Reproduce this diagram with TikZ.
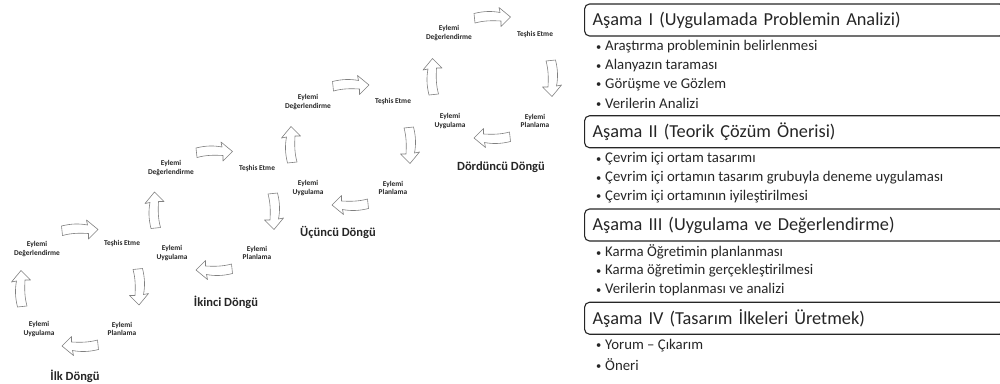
\documentclass[tikz,border=0pt]{standalone}
\usepackage{fontspec}
\setmainfont{Carlito}
\usetikzlibrary{calc}
\definecolor{arrgray}{HTML}{808080}
\definecolor{txt}{HTML}{262626}
\newcommand{\blt}{\makebox[9pt][l]{\raisebox{0.6pt}{\fontsize{10.5}{10.5}\selectfont •}}}
\begin{document}
\begin{tikzpicture}[x=1pt,y=1pt,
  lbl/.style={font=\fontsize{7.4}{8.7}\selectfont\bfseries, text=txt, align=center, inner sep=0pt},
  cyc/.style={font=\fontsize{12.5}{14}\selectfont\bfseries, text=txt, inner sep=0pt},
  arrowline/.style={draw=arrgray, fill=white, line width=0.6pt, line join=round},
  hdr/.style={draw=black!85, line width=1.1pt, rounded corners=5pt, fill=white, anchor=west, minimum height=32pt, text width=404pt, inner xsep=8pt, inner ysep=0pt, align=left, font=\fontsize{18.3}{21}\selectfont, text=txt},
  bul/.style={anchor=west, inner sep=0pt, font=\fontsize{14.8}{16}\selectfont, text=txt},
  bendarrow/.pic={
    \draw[arrowline] (-18,4.5) .. controls (-8,7) and (0,7) .. (8,5.5) -- (7,10.5) -- (18.5,1) -- (9,-8.5) -- (9,-3) .. controls (0,-2.5) and (-8,-2.5) .. (-17,-5) -- cycle;
  }
]
\useasboundingbox (0,0) rectangle (1000,-383);

% ---- cycle 1
\node[lbl] (c1d) at (37,-249) {Eylemi\\Değerlendirme};
\node[lbl] (c1t) at (122,-244) {Teşhis Etme};
\node[lbl] (c1u) at (39,-329) {Eylemi\\Uygulama};
\node[lbl] (c1p) at (122,-329) {Eylemi\\Planlama};
\node[cyc] (c1l) at (75,-376) {İlk Döngü};
% ---- cycle 2
\node[lbl] (c2d) at (171,-168) {Eylemi\\Değerlendirme};
\node[lbl] (c2t) at (257,-169) {Teşhis Etme};
\node[lbl] (c2u) at (172,-253) {Eylemi\\Uygulama};
\node[lbl] (c2p) at (257,-253) {Eylemi\\Planlama};
\node[cyc] (c2l) at (226,-302) {İkinci Döngü};
% ---- cycle 3
\node[lbl] (c3d) at (308,-102) {Eylemi\\Değerlendirme};
\node[lbl] (c3t) at (393,-102) {Teşhis Etme};
\node[lbl] (c3u) at (308,-188) {Eylemi\\Uygulama};
\node[lbl] (c3p) at (393,-188) {Eylemi\\Planlama};
\node[cyc] (c3l) at (338,-232) {Üçüncü Döngü};
% ---- cycle 4
\node[lbl] (c4d) at (449,-33) {Eylemi\\Değerlendirme};
\node[lbl] (c4t) at (535,-35) {Teşhis Etme};
\node[lbl] (c4u) at (450,-121) {Eylemi\\Uygulama};
\node[lbl] (c4p) at (535,-121) {Eylemi\\Planlama};
\node[cyc] (c4l) at (501,-167) {Dördüncü Döngü};

% ---- block arrows of the cycles
\foreach \c in {1,2,3,4}{
  \pic at ($(c\c d)!0.5!(c\c t)+(0,16)$) {bendarrow};
  \pic[rotate=-90] at ($(c\c t)!0.5!(c\c p)+(16,0)$) {bendarrow};
  \pic[rotate=180] at ($(c\c p)!0.5!(c\c u)+(0,-16)$) {bendarrow};
  \pic[rotate=90] at ($(c\c u)!0.5!(c\c d)+(-16,0)$) {bendarrow};
}

% ---- right panel
\node[hdr] (h1) at (584,-20) {Aşama I (Uygulamada Problemin Analizi)};
\node[bul] (b11) at (596,-47) {\blt Araştırma probleminin belirlenmesi};
\node[bul] (b12) at (596,-65.75) {\blt Alanyazın taraması};
\node[bul] (b13) at (596,-84.5) {\blt Görüşme ve Gözlem};
\node[bul] (b14) at (596,-103.25) {\blt Verilerin Analizi};

\node[hdr] (h2) at (584,-131.75) {Aşama II (Teorik Çözüm Önerisi)};
\node[bul] (b21) at (596,-159) {\blt Çevrim içi ortam tasarımı};
\node[bul] (b22) at (596,-177.75) {\blt Çevrim içi ortamın tasarım grubuyla deneme uygulaması};
\node[bul] (b23) at (596,-196.5) {\blt Çevrim içi ortamının iyileştirilmesi};

\node[hdr] (h3) at (584,-225) {Aşama III (Uygulama ve Değerlendirme)};
\node[bul] (b31) at (596,-252.25) {\blt Karma Öğretimin planlanması};
\node[bul] (b32) at (596,-271) {\blt Karma öğretimin gerçekleştirilmesi};
\node[bul] (b33) at (596,-289.75) {\blt Verilerin toplanması ve analizi};

\node[hdr] (h4) at (584,-318.25) {Aşama IV (Tasarım İlkeleri Üretmek)};
\node[bul] (b41) at (596,-345.5) {\blt Yorum – Çıkarım};
\node[bul] (b42) at (596,-364.25) {\blt Öneri};
\end{tikzpicture}
\end{document}
